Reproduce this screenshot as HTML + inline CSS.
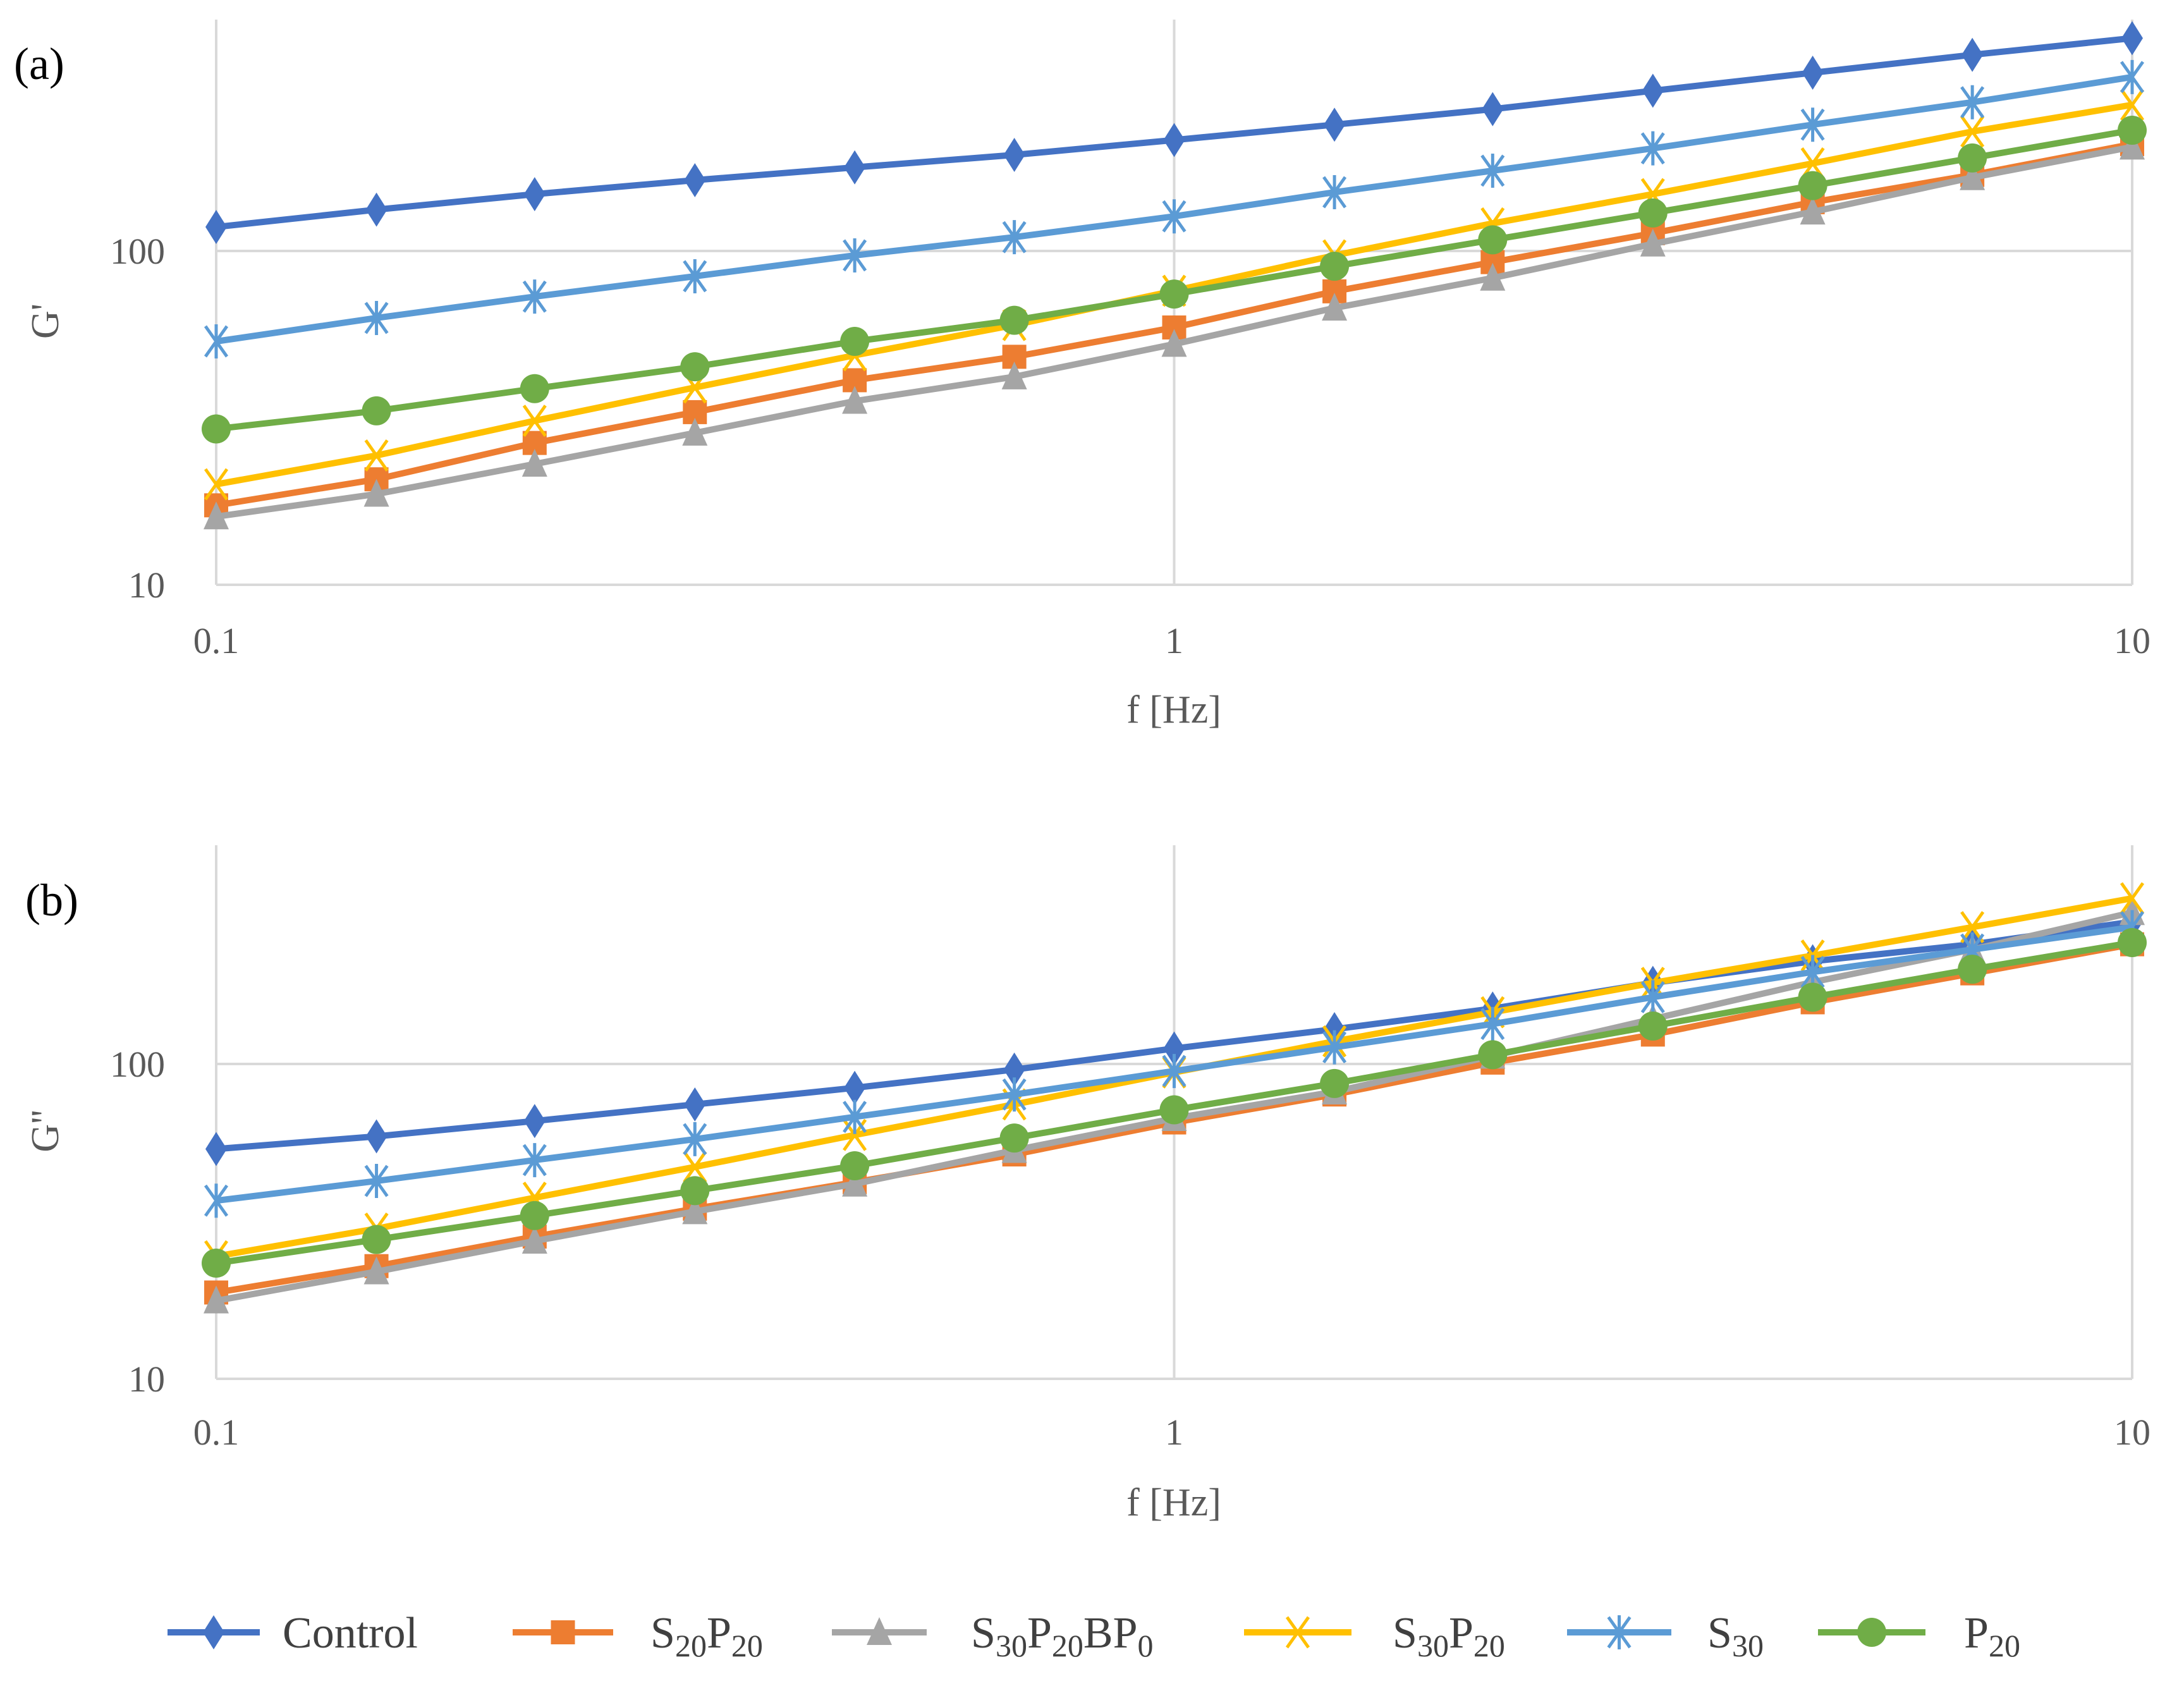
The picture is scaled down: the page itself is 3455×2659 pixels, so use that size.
<!DOCTYPE html>
<html><head><meta charset="utf-8"><style>
html,body{margin:0;padding:0;background:#fff;}
svg{display:block;font-family:"Liberation Serif",serif;}
</style></head><body>
<svg id="chart" width="3455" height="2659" viewBox="0 0 3455 2659" xmlns="http://www.w3.org/2000/svg"></svg>
<script>
const freqs=[0.1,0.147,0.215,0.316,0.464,0.681,1,1.47,2.15,3.16,4.64,6.81,10];
const seriesNames=["Control","S20P20","S30P20BP0","S30P20","S30","P20"];
const gpControl=[118,133,148,163,178,194,215,239,266,302,342,387,434];
const gpS20P20=[17.3,20.7,26.6,32.9,41,48.2,59,75.7,92.6,113,140,169,209];
const gpS30P20BP0=[16,18.7,23,28.5,35.5,42,52.6,67.5,83,105,131,166,205];
const gpS30P20=[20,24.4,31,39,48.7,60,76,97,121,148,183,228,274];
const gpS30=[53.6,63,73,84,97,110,127,150,174,203,239,279,332];
const gpP20=[29.3,33.2,38.7,45,53.6,62,74.3,90,108,130,157,190,230];
const gppControl=[53.7,58.9,65.9,74.4,84,96,112,129,150,181,212,240,283];
const gppS20P20=[18.8,22.8,28.3,34.7,42.1,51.6,65.2,80,101,124,157,194,240];
const gppS30P20BP0=[17.7,21.9,27.4,34,41.6,53.2,67.2,81.6,106,139,182,231,303];
const gppS30P20=[24.5,30,37.6,47.1,59.5,74.4,94,118,146,181,221,272,336];
const gppS30=[36.8,42.5,49.5,57.7,67.9,80,95,113,134,163,196,231,272];
const gppP20=[23.3,27.7,33,39.6,47.5,58.2,71.5,86.7,107,132,163,200,243];
const xTicks=[0.1,1,10];
const xTickLabels=["0.1","1","10"];
const yTicks=[10,100];
const yTickLabels=["10","100"];

const NS="http://www.w3.org/2000/svg";
const svg=document.getElementById('chart');
const colors=["#4472C4","#ED7D31","#A5A5A5","#FFC000","#5B9BD5","#70AD47"];
const markers=["diamond","square","triangle","x","star","circle"];
function mk(tag,attrs,parent){const e=document.createElementNS(NS,tag);for(const k in attrs)e.setAttribute(k,attrs[k]);(parent||svg).appendChild(e);return e;}

function marker(g,type,x,y,c){
  let e;
  if(type==="diamond"){e=mk('polygon',{points:`${x},${y-27} ${x+17},${y} ${x},${y+27} ${x-17},${y}`,fill:c},g);}
  else if(type==="square"){e=mk('rect',{x:x-19,y:y-19,width:38,height:38,fill:c},g);}
  else if(type==="triangle"){e=mk('polygon',{points:`${x},${y-24} ${x+20},${y+20} ${x-20},${y+20}`,fill:c},g);}
  else if(type==="circle"){e=mk('circle',{cx:x,cy:y,r:23,fill:c},g);}
  else if(type==="x"){e=mk('path',{d:`M${x-17},${y-24}L${x+17},${y+24}M${x+17},${y-24}L${x-17},${y+24}`,stroke:c,'stroke-width':5,fill:'none'},g);}
  else {e=mk('path',{d:`M${x-17},${y-24}L${x+17},${y+24}M${x+17},${y-24}L${x-17},${y+24}M${x},${y-27}L${x},${y+27}`,stroke:c,'stroke-width':5,fill:'none'},g);}
  
  
}

function panel(id,label,yTitle,top,y10,y100,labelY,titleY,panelLabel,plx,ply,data){
  const x0=342,x10=3373;
  const xs=v=>x0+(Math.log10(v)+1)/2*(x10-x0);
  const ys=v=>y10-(Math.log10(v)-1)*(y10-y100);
  const g=mk('g',{});
  
  
  xTicks.forEach((t,i)=>{
    const l=mk('line',{x1:xs(t),x2:xs(t),y1:top,y2:y10,stroke:'#d9d9d9','stroke-width':4},g);
    
    
    const tx=mk('text',{x:xs(t),y:labelY,'text-anchor':'middle','font-size':58,fill:'#595959'},g);
    tx.textContent=xTickLabels[i];
    
    
  });
  yTicks.forEach((t,i)=>{
    const l=mk('line',{x1:x0,x2:x10,y1:ys(t),y2:ys(t),stroke:'#d9d9d9','stroke-width':4},g);
    
    
    const tx=mk('text',{x:x0-81,y:ys(t)+20,'text-anchor':'end','font-size':58,fill:'#595959'},g);
    tx.textContent=yTickLabels[i];
    
    
  });
  const xt=mk('text',{x:1857,y:titleY,'text-anchor':'middle','font-size':62,fill:'#595959'},g);
  xt.textContent="f [Hz]";
  
  
  const yt=mk('text',{x:0,y:0,'text-anchor':'middle','font-size':62,fill:'#595959',transform:`translate(92,${(top+y10)/2+30}) rotate(-90)`},g);
  yt.textContent=yTitle;
  
  
  const pl=mk('text',{x:plx,y:ply,'font-size':72,fill:'#000'},g);
  pl.textContent=panelLabel;
  
  
  data.forEach((vals,si)=>{
    const sg=mk('g',{},g);
    
    
    const p=mk('polyline',{points:vals.map((v,i)=>xs(freqs[i])+','+ys(v)).join(' '),fill:'none',stroke:colors[si],'stroke-width':10,'stroke-linejoin':'round'},sg);
    
    
    vals.forEach((v,i)=>marker(sg,markers[si],xs(freqs[i]),ys(v),colors[si]));
  });
}
panel('panel-a-storage-modulus','a',"G'",31,925,397,1033,1143,"(a)",22,125,
  [gpControl,gpS20P20,gpS30P20BP0,gpS30P20,gpS30,gpP20]);
panel('panel-b-loss-modulus','b',"G''",1337,2181,1683,2285,2397,"(b)",40,1448,
  [gppControl,gppS20P20,gppS30P20BP0,gppS30P20,gppS30,gppP20]);

const legend=mk('g',{});


const legX=[265,811,1316,1968,2479,2876];
const legW=[146,159,150,170,165,170];
const legTX=[447,1029,1536,2203,2701,3107];
const legLabels=[["Control"],["S","20","P","20"],["S","30","P","20","BP","0"],["S","30","P","20"],["S","30"],["P","20"]];
const ly=2582;
legLabels.forEach((parts,i)=>{
  const eg=mk('g',{},legend);
  
  
  mk('line',{x1:legX[i],x2:legX[i]+legW[i],y1:ly,y2:ly,stroke:colors[i],'stroke-width':10},eg);
  marker(eg,markers[i],legX[i]+legW[i]/2,ly,colors[i]);
  const t=mk('text',{x:legTX[i],y:ly+24,'font-size':70,fill:'#404040'},eg);
  parts.forEach((p,j)=>{
    const ts=mk('tspan',{},t);
    if(j%2===1){ts.setAttribute('font-size','50');ts.setAttribute('dy','14');}
    else if(j>0){ts.setAttribute('dy','-14');}
    ts.textContent=p;
  });
});
</script>
</body></html>
